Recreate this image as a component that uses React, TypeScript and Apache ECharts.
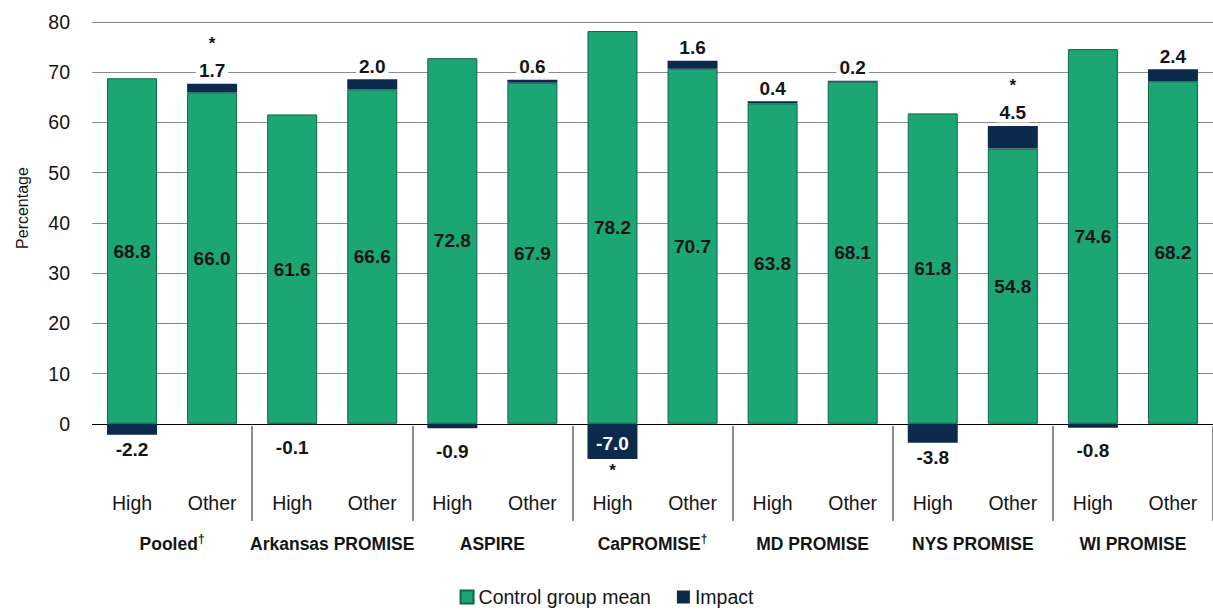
import React, { useEffect, useRef } from "react";
import * as echarts from "echarts";

const categories = [
  "High", "Other", "High", "Other", "High", "Other", "High",
  "Other", "High", "Other", "High", "Other", "High", "Other",
];
const groups = [
  "Pooled†", "Arkansas PROMISE", "ASPIRE", "CaPROMISE†",
  "MD PROMISE", "NYS PROMISE", "WI PROMISE",
];
const controlMean = [68.8, 66.0, 61.6, 66.6, 72.8, 67.9, 78.2, 70.7, 63.8, 68.1, 61.8, 54.8, 74.6, 68.2];
const impact = [-2.2, 1.7, -0.1, 2.0, -0.9, 0.6, -7.0, 1.6, 0.4, 0.2, -3.8, 4.5, -0.8, 2.4];
const significant = [false, true, false, false, false, false, true, false, false, false, false, true, false, false];
const yMin = -10;
const yMax = 80;
const yStep = 10;

const FONT = '"Liberation Sans", Arial, sans-serif';
const GREEN = "#1ba673";
const GREEN_BORDER = "#11654c";
const NAVY = "#0c2a4b";
const TEXT = "#151515";

export default function App() {
  const ref = useRef<HTMLDivElement>(null);
  useEffect(() => {
    if (!ref.current) return;
    const chart = echarts.init(ref.current, null, { renderer: "svg" });

    const nLines = Math.round((yMax - yMin) / yStep) + 1;
    const splitColors: string[] = [];
    for (let k = 0; k < nLines; k++) {
      const v = yMin + k * yStep;
      splitColors.push(v < 0 ? "rgba(0,0,0,0)" : v === 0 ? "#000000" : "#8a8a8a");
    }

    const impactData = impact.map((v) => {
      if (v <= -5) return { value: v, label: { position: "insideTop", distance: 9 } };
      if (v < 0) return { value: v, label: { position: "bottom", distance: v > -2 ? 12 : 4 } };
      return { value: v, label: { position: "top", distance: 2 } };
    });

    const labelRich = {
      p: { fontFamily: FONT, fontSize: 19, fontWeight: "bold", color: TEXT, backgroundColor: "#ffffff", padding: [0, 3], lineHeight: 22 },
      n: { fontFamily: FONT, fontSize: 19, fontWeight: "bold", color: TEXT, lineHeight: 22 },
      w: { fontFamily: FONT, fontSize: 19, fontWeight: "bold", color: "#ffffff", lineHeight: 22 },
      s: { fontFamily: FONT, fontSize: 17, fontWeight: "bold", color: TEXT, lineHeight: 32 },
    };

    chart.setOption({
      animation: false,
      backgroundColor: "#ffffff",
      textStyle: { fontFamily: FONT },
      grid: { left: 92, top: 22, bottom: 136, width: 1128, containLabel: false },
      legend: {
        data: ["Control group mean", "Impact"],
        left: "center",
        top: 587,
        padding: 0,
        itemWidth: 13,
        itemHeight: 13,
        itemGap: 26,
        icon: "rect",
        textStyle: { fontFamily: FONT, fontSize: 19.5, color: TEXT },
      },
      graphic: [
        {
          type: "text",
          x: 22,
          y: 208,
          rotation: Math.PI / 2,
          style: {
            text: "Percentage",
            fontFamily: FONT,
            fontSize: 16,
            fill: TEXT,
            textAlign: "center",
            textVerticalAlign: "middle",
          },
        },
      ],
      xAxis: [
        {
          type: "category",
          data: categories,
          position: "bottom",
          axisLine: { show: false, onZero: false },
          axisTick: { show: false },
          axisLabel: { interval: 0, margin: 19, fontFamily: FONT, fontSize: 19.5, color: TEXT },
        },
        {
          type: "category",
          data: groups,
          position: "bottom",
          offset: -48,
          axisLine: { show: false, onZero: false },
          axisTick: {
            show: true,
            length: 95,
            interval: (index: number) => index !== 0,
            lineStyle: { color: "#8c8c8c", width: 2 },
          },
          axisLabel: {
            interval: 0,
            margin: 107,
            fontFamily: FONT,
            fontSize: 17.5,
            fontWeight: "bold",
            color: TEXT,
            lineHeight: 22,
            formatter: (v: string) => v.replace("†", "{d|†}"),
            rich: {
              d: { fontFamily: FONT, fontSize: 12, fontWeight: "bold", color: TEXT, lineHeight: 12, verticalAlign: "top" },
            },
          },
        },
      ],
      yAxis: {
        type: "value",
        min: yMin,
        max: yMax,
        interval: yStep,
        axisLine: { show: false },
        axisTick: { show: false },
        axisLabel: {
          margin: 22,
          fontFamily: FONT,
          fontSize: 19.5,
          color: TEXT,
          formatter: (v: number) => (v < 0 ? "" : String(v)),
        },
        splitLine: { show: true, lineStyle: { color: splitColors, width: 1 } },
      },
      series: [
        {
          name: "Control group mean",
          type: "bar",
          stack: "total",
          barWidth: 50,
          xAxisIndex: 0,
          data: controlMean,
          itemStyle: { color: GREEN, borderColor: GREEN_BORDER, borderWidth: 1 },
          label: {
            show: true,
            position: "inside",
            fontFamily: FONT,
            fontSize: 19,
            fontWeight: "bold",
            color: TEXT,
            formatter: (p: any) => Number(p.value).toFixed(1),
          },
        },
        {
          name: "Impact",
          type: "bar",
          stack: "total",
          barWidth: 50,
          xAxisIndex: 0,
          data: impactData,
          itemStyle: { color: NAVY },
          label: {
            show: true,
            formatter: (p: any) => {
              const i = p.dataIndex;
              const v = impact[i];
              const t = v.toFixed(1);
              if (v <= -5) return significant[i] ? `{w|${t}}\n{s|*}` : `{w|${t}}`;
              if (v < 0) return significant[i] ? `{n|${t}}\n{s|*}` : `{n|${t}}`;
              return significant[i] ? `{s|*}\n{p|${t}}` : `{p|${t}}`;
            },
            rich: labelRich,
          },
        },
      ],
    });
    return () => chart.dispose();
  }, []);
  return (
    <div
      ref={ref}
      style={{ position: "absolute", left: 0, top: 0, width: 1213, height: 610 }}
    />
  );
}
